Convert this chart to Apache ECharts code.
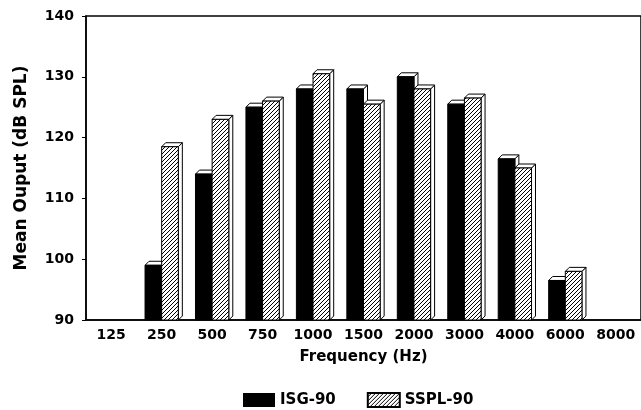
<!DOCTYPE html>
<html>
<head>
<meta charset="utf-8">
<script src="https://cdn.jsdelivr.net/npm/echarts@6/dist/echarts.min.js"></script>
<style>
  html, body { margin: 0; padding: 0; background: #fff; }
  #chart { width: 641px; height: 410px; }
</style>
</head>
<body>
<div id="chart"></div>
<script>
// data
const freqs = ["125", "250", "500", "750", "1000", "1500", "2000", "3000", "4000", "6000", "8000"];
const isg90 = [null, 99, 114, 125, 128, 128, 130, 125.5, 116.5, 96.5, null];
const sspl90 = [null, 118.5, 123, 126, 130.5, 125.5, 128, 126.5, 115, 98, null];
const yTicks = [90, 100, 110, 120, 130, 140];

// diagonal hatch pattern for SSPL-90
function hatch() {
  const c = document.createElement("canvas");
  c.width = 4; c.height = 4;
  const g = c.getContext("2d");
  g.fillStyle = "#fff";
  g.fillRect(0, 0, 4, 4);
  g.strokeStyle = "#000";
  g.lineWidth = 1;
  g.beginPath();
  g.moveTo(-1, 5); g.lineTo(5, -1);
  g.moveTo(-1, 1); g.lineTo(1, -1);
  g.moveTo(3, 5); g.lineTo(5, 3);
  g.stroke();
  return { image: c, repeat: "repeat" };
}
const hatchFill = hatch();

const toData = arr => arr.map((v, i) => (v == null ? null : [i, v])).filter(d => d);

// 3d-looking bar: front face + top cap + right side
function bar3d(side, fill) {
  return function (params, api) {
    const i = api.value(0), v = api.value(1);
    const base = api.coord([i, yTicks[0]]);
    const top = api.coord([i, v]);
    const bw = api.size([1, 0])[0] * 0.33;
    const x0 = side < 0 ? base[0] - bw : base[0];
    const x1 = x0 + bw;
    const dx = 4, dy = 4;
    const st = { stroke: "#000", lineWidth: 1 };
    return {
      type: "group",
      children: [
        { type: "polygon", shape: { points: [[x1, base[1]], [x1, top[1]], [x1 + dx, top[1] - dy], [x1 + dx, base[1] - dy]] },
          style: Object.assign({ fill: "#fff" }, st) },
        { type: "polygon", shape: { points: [[x0, top[1]], [x0 + dx, top[1] - dy], [x1 + dx, top[1] - dy], [x1, top[1]]] },
          style: Object.assign({ fill: "#fff" }, st) },
        { type: "rect", shape: { x: x0, y: top[1], width: bw, height: base[1] - top[1] },
          style: Object.assign({ fill: fill }, st) }
      ]
    };
  };
}

const chart = echarts.init(document.getElementById("chart"));
const bold = { fontFamily: "DejaVu Sans", fontWeight: "bold", color: "#000" };

chart.setOption({
  animation: false,
  grid: { left: 86, top: 16, right: -6, bottom: 90, show: true, borderColor: "#000", borderWidth: 1.5 },
  legend: {
    left: 238, top: 387,
    itemWidth: 32, itemHeight: 14, itemGap: 31,
    icon: "rect",
    textStyle: Object.assign({ fontSize: 15 }, bold),
    data: ["ISG-90", "SSPL-90"]
  },
  xAxis: {
    type: "category",
    data: freqs,
    name: "Frequency (Hz)",
    nameLocation: "middle",
    nameGap: 30,
    nameTextStyle: Object.assign({ fontSize: 15 }, bold),
    axisLine: { lineStyle: { color: "#000", width: 1.5 } },
    axisTick: { alignWithLabel: true, inside: true, length: 5, lineStyle: { color: "#000" } },
    axisLabel: Object.assign({ fontSize: 14, margin: 8, interval: 0 }, bold)
  },
  yAxis: {
    type: "value",
    min: 90, max: 140, interval: 10,
    name: "Mean Ouput (dB SPL)",
    nameLocation: "middle",
    nameGap: 56,
    nameTextStyle: Object.assign({ fontSize: 17 }, bold),
    axisLine: { show: true, lineStyle: { color: "#000", width: 1.5 } },
    axisTick: { show: true, length: 4, lineStyle: { color: "#000" } },
    axisLabel: Object.assign({ fontSize: 14, margin: 12 }, bold),
    splitLine: { show: false }
  },
  series: [
    {
      name: "ISG-90", type: "custom",
      itemStyle: { color: "#000", borderColor: "#000" },
      renderItem: bar3d(-1, "#000"),
      encode: { x: 0, y: 1 },
      data: toData(isg90)
    },
    {
      name: "SSPL-90", type: "custom",
      itemStyle: { color: hatchFill, borderColor: "#000", borderWidth: 1 },
      renderItem: bar3d(1, hatchFill),
      encode: { x: 0, y: 1 },
      data: toData(sspl90)
    }
  ]
});
</script>
</body>
</html>
